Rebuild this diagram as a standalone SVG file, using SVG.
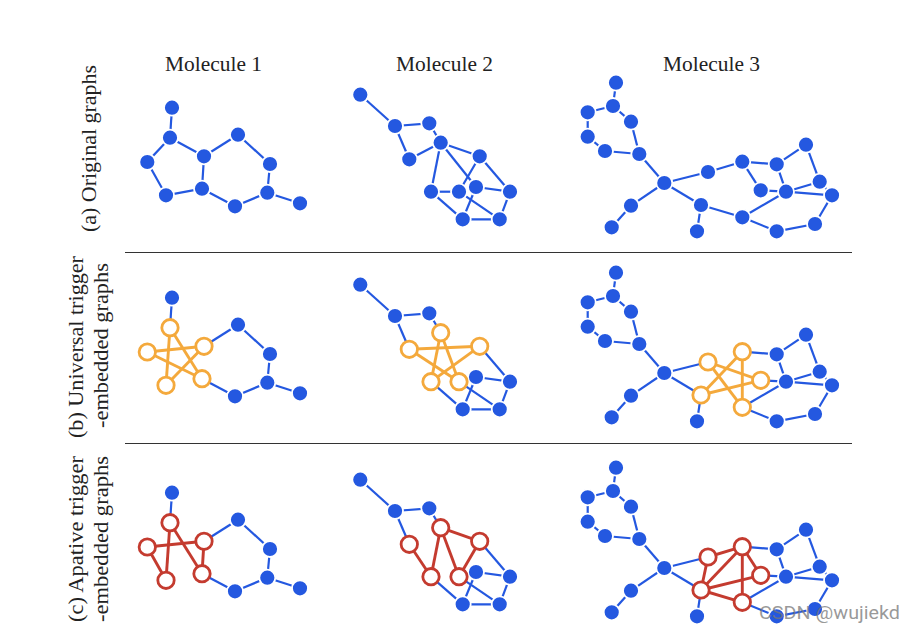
<svg xmlns="http://www.w3.org/2000/svg" width="914" height="634" viewBox="0 0 914 634">
<style>
text{font-family:"Liberation Serif","Times New Roman",serif;font-size:20.5px;fill:#222}
.wm{font-family:"Roboto","Liberation Sans",sans-serif;font-size:19px;fill:#777;fill-opacity:.75}
.rule{stroke:#333;stroke-width:1}
line{fill:none}
.e{stroke:#2458e0;stroke-width:2.2}
.o{stroke:#f4a93c;stroke-width:2.9}
.r{stroke:#c43b2f;stroke-width:2.9}
.n{fill:#2458e0;stroke:#fff;stroke-width:1.800}
.no{fill:#fff;stroke:#f4a93c;stroke-width:2.8}
.nr{fill:#fff;stroke:#c43b2f;stroke-width:2.8}
</style>
<rect width="914" height="634" fill="#fff"/>
<g id="titles">
<text x="165" y="71" textLength="97" lengthAdjust="spacingAndGlyphs">Molecule 1</text>
<text x="396" y="71" textLength="97" lengthAdjust="spacingAndGlyphs">Molecule 2</text>
<text x="663" y="71" textLength="97" lengthAdjust="spacingAndGlyphs">Molecule 3</text>
</g>
<g id="row-labels">
<text transform="translate(96,232) rotate(-90)" textLength="167" lengthAdjust="spacingAndGlyphs">(a) Original graphs</text>
<text transform="translate(83,438) rotate(-90)" textLength="182" lengthAdjust="spacingAndGlyphs">(b) Universal trigger</text>
<text transform="translate(108,428) rotate(-90)" textLength="165" lengthAdjust="spacingAndGlyphs">-embedded graphs</text>
<text transform="translate(83,622) rotate(-90)" textLength="166" lengthAdjust="spacingAndGlyphs">(c) Apative trigger</text>
<text transform="translate(108,622) rotate(-90)" textLength="166" lengthAdjust="spacingAndGlyphs">-embedded graphs</text>
</g>
<g id="rules">
<line class="rule" x1="125" y1="252.500" x2="852" y2="252.500"/>
<line class="rule" x1="125" y1="443.500" x2="852" y2="443.500"/>
</g>
<g id="connectors">
<g id="connectors-a">
<line class="e" x1="172" y1="107.700" x2="170" y2="137.700"/>
<line class="e" x1="170" y1="137.700" x2="147.300" y2="162"/>
<line class="e" x1="147.300" y1="162" x2="166" y2="195.300"/>
<line class="e" x1="166" y1="195.300" x2="202" y2="188.700"/>
<line class="e" x1="202" y1="188.700" x2="204" y2="156.300"/>
<line class="e" x1="204" y1="156.300" x2="170" y2="137.700"/>
<line class="e" x1="204" y1="156.300" x2="238" y2="134.700"/>
<line class="e" x1="238" y1="134.700" x2="270" y2="164"/>
<line class="e" x1="270" y1="164" x2="267.300" y2="192.700"/>
<line class="e" x1="267.300" y1="192.700" x2="235" y2="206.300"/>
<line class="e" x1="235" y1="206.300" x2="202" y2="188.700"/>
<line class="e" x1="267.300" y1="192.700" x2="300" y2="203.300"/>

<line class="e" x1="360.300" y1="94.700" x2="395" y2="126"/>
<line class="e" x1="395" y1="126" x2="429.300" y2="123.300"/>
<line class="e" x1="395" y1="126" x2="409.300" y2="159.300"/>
<line class="e" x1="429.300" y1="123.300" x2="440.700" y2="142.700"/>
<line class="e" x1="409.300" y1="159.300" x2="440.700" y2="142.700"/>
<line class="e" x1="440.700" y1="142.700" x2="479.700" y2="156.300"/>
<line class="e" x1="440.700" y1="142.700" x2="431" y2="191.700"/>
<line class="e" x1="440.700" y1="142.700" x2="476" y2="187"/>
<line class="e" x1="479.700" y1="156.300" x2="459" y2="191.700"/>
<line class="e" x1="479.700" y1="156.300" x2="510" y2="191.700"/>
<line class="e" x1="510" y1="191.700" x2="476" y2="187"/>
<line class="e" x1="510" y1="191.700" x2="499.700" y2="219.300"/>
<line class="e" x1="476" y1="187" x2="462.700" y2="219.300"/>
<line class="e" x1="459" y1="191.700" x2="431" y2="191.700"/>
<line class="e" x1="459" y1="191.700" x2="499.700" y2="219.300"/>
<line class="e" x1="431" y1="191.700" x2="462.700" y2="219.300"/>
<line class="e" x1="462.700" y1="219.300" x2="499.700" y2="219.300"/>

<line class="e" x1="616" y1="82.700" x2="613" y2="106"/>
<line class="e" x1="613" y1="106" x2="587.700" y2="112.300"/>
<line class="e" x1="613" y1="106" x2="631" y2="121.700"/>
<line class="e" x1="587.700" y1="112.300" x2="587.700" y2="136.700"/>
<line class="e" x1="587.700" y1="136.700" x2="605" y2="151"/>
<line class="e" x1="605" y1="151" x2="639.300" y2="154"/>
<line class="e" x1="631" y1="121.700" x2="639.300" y2="154"/>
<line class="e" x1="639.300" y1="154" x2="664.300" y2="183"/>
<line class="e" x1="664.300" y1="183" x2="631" y2="205.700"/>
<line class="e" x1="631" y1="205.700" x2="611.700" y2="227.300"/>
<line class="e" x1="664.300" y1="183" x2="701" y2="205"/>
<line class="e" x1="701" y1="205" x2="697" y2="231.300"/>
<line class="e" x1="664.300" y1="183" x2="708" y2="172"/>
<line class="e" x1="708" y1="172" x2="742.300" y2="161.700"/>
<line class="e" x1="742.300" y1="161.700" x2="776.700" y2="164.300"/>
<line class="e" x1="742.300" y1="161.700" x2="760.700" y2="190.300"/>
<line class="e" x1="776.700" y1="164.300" x2="786" y2="191.700"/>
<line class="e" x1="776.700" y1="164.300" x2="806" y2="144.700"/>
<line class="e" x1="760.700" y1="190.300" x2="786" y2="191.700"/>
<line class="e" x1="786" y1="191.700" x2="819.700" y2="181.700"/>
<line class="e" x1="786" y1="191.700" x2="832" y2="195.300"/>
<line class="e" x1="786" y1="191.700" x2="742.300" y2="217.300"/>
<line class="e" x1="701" y1="205" x2="742.300" y2="217.300"/>
<line class="e" x1="742.300" y1="217.300" x2="776.700" y2="231.300"/>
<line class="e" x1="776.700" y1="231.300" x2="815" y2="224"/>
<line class="e" x1="815" y1="224" x2="832" y2="195.300"/>
<line class="e" x1="832" y1="195.300" x2="819.700" y2="181.700"/>
<line class="e" x1="819.700" y1="181.700" x2="806" y2="144.700"/>
</g>
<g id="connectors-b" transform="translate(0,190)">
<line class="e" x1="172" y1="107.700" x2="170" y2="137.700"/>
<line class="e" x1="204" y1="156.300" x2="238" y2="134.700"/>
<line class="e" x1="238" y1="134.700" x2="270" y2="164"/>
<line class="e" x1="270" y1="164" x2="267.300" y2="192.700"/>
<line class="e" x1="267.300" y1="192.700" x2="235" y2="206.300"/>
<line class="e" x1="235" y1="206.300" x2="202" y2="188.700"/>
<line class="e" x1="267.300" y1="192.700" x2="300" y2="203.300"/>
<line class="o" x1="170" y1="137.700" x2="166" y2="195.300"/>
<line class="o" x1="170" y1="137.700" x2="202" y2="188.700"/>
<line class="o" x1="147.300" y1="162" x2="204" y2="156.300"/>
<line class="o" x1="147.300" y1="162" x2="202" y2="188.700"/>
<line class="o" x1="204" y1="156.300" x2="166" y2="195.300"/>

<line class="e" x1="360.300" y1="94.700" x2="395" y2="126"/>
<line class="e" x1="395" y1="126" x2="429.300" y2="123.300"/>
<line class="e" x1="395" y1="126" x2="409.300" y2="159.300"/>
<line class="e" x1="429.300" y1="123.300" x2="440.700" y2="142.700"/>
<line class="e" x1="479.700" y1="156.300" x2="510" y2="191.700"/>
<line class="e" x1="510" y1="191.700" x2="476" y2="187"/>
<line class="e" x1="510" y1="191.700" x2="499.700" y2="219.300"/>
<line class="e" x1="476" y1="187" x2="462.700" y2="219.300"/>
<line class="e" x1="459" y1="191.700" x2="499.700" y2="219.300"/>
<line class="e" x1="431" y1="191.700" x2="462.700" y2="219.300"/>
<line class="e" x1="462.700" y1="219.300" x2="499.700" y2="219.300"/>
<line class="o" x1="409.300" y1="159.300" x2="479.700" y2="156.300"/>
<line class="o" x1="409.300" y1="159.300" x2="459" y2="191.700"/>
<line class="o" x1="440.700" y1="142.700" x2="431" y2="191.700"/>
<line class="o" x1="440.700" y1="142.700" x2="459" y2="191.700"/>
<line class="o" x1="479.700" y1="156.300" x2="431" y2="191.700"/>

<line class="e" x1="616" y1="82.700" x2="613" y2="106"/>
<line class="e" x1="613" y1="106" x2="587.700" y2="112.300"/>
<line class="e" x1="613" y1="106" x2="631" y2="121.700"/>
<line class="e" x1="587.700" y1="112.300" x2="587.700" y2="136.700"/>
<line class="e" x1="587.700" y1="136.700" x2="605" y2="151"/>
<line class="e" x1="605" y1="151" x2="639.300" y2="154"/>
<line class="e" x1="631" y1="121.700" x2="639.300" y2="154"/>
<line class="e" x1="639.300" y1="154" x2="664.300" y2="183"/>
<line class="e" x1="664.300" y1="183" x2="631" y2="205.700"/>
<line class="e" x1="631" y1="205.700" x2="611.700" y2="227.300"/>
<line class="e" x1="664.300" y1="183" x2="701" y2="205"/>
<line class="e" x1="701" y1="205" x2="697" y2="231.300"/>
<line class="e" x1="664.300" y1="183" x2="708" y2="172"/>
<line class="e" x1="742.300" y1="161.700" x2="776.700" y2="164.300"/>
<line class="e" x1="776.700" y1="164.300" x2="786" y2="191.700"/>
<line class="e" x1="776.700" y1="164.300" x2="806" y2="144.700"/>
<line class="e" x1="760.700" y1="190.300" x2="786" y2="191.700"/>
<line class="e" x1="786" y1="191.700" x2="819.700" y2="181.700"/>
<line class="e" x1="786" y1="191.700" x2="832" y2="195.300"/>
<line class="e" x1="786" y1="191.700" x2="742.300" y2="217.300"/>
<line class="e" x1="742.300" y1="217.300" x2="776.700" y2="231.300"/>
<line class="e" x1="776.700" y1="231.300" x2="815" y2="224"/>
<line class="e" x1="815" y1="224" x2="832" y2="195.300"/>
<line class="e" x1="832" y1="195.300" x2="819.700" y2="181.700"/>
<line class="e" x1="819.700" y1="181.700" x2="806" y2="144.700"/>
<line class="o" x1="708" y1="172" x2="760.700" y2="190.300"/>
<line class="o" x1="708" y1="172" x2="742.300" y2="217.300"/>
<line class="o" x1="742.300" y1="161.700" x2="701" y2="205"/>
<line class="o" x1="742.300" y1="161.700" x2="742.300" y2="217.300"/>
<line class="o" x1="760.700" y1="190.300" x2="701" y2="205"/>
</g>
<g id="connectors-c" transform="translate(0,385)">
<line class="e" x1="172" y1="107.700" x2="170" y2="137.700"/>
<line class="e" x1="204" y1="156.300" x2="238" y2="134.700"/>
<line class="e" x1="238" y1="134.700" x2="270" y2="164"/>
<line class="e" x1="270" y1="164" x2="267.300" y2="192.700"/>
<line class="e" x1="267.300" y1="192.700" x2="235" y2="206.300"/>
<line class="e" x1="235" y1="206.300" x2="202" y2="188.700"/>
<line class="e" x1="267.300" y1="192.700" x2="300" y2="203.300"/>
<line class="r" x1="170" y1="137.700" x2="166" y2="195.300"/>
<line class="r" x1="170" y1="137.700" x2="202" y2="188.700"/>
<line class="r" x1="147.300" y1="162" x2="204" y2="156.300"/>
<line class="r" x1="147.300" y1="162" x2="166" y2="195.300"/>
<line class="r" x1="204" y1="156.300" x2="202" y2="188.700"/>

<line class="e" x1="360.300" y1="94.700" x2="395" y2="126"/>
<line class="e" x1="395" y1="126" x2="429.300" y2="123.300"/>
<line class="e" x1="395" y1="126" x2="409.300" y2="159.300"/>
<line class="e" x1="429.300" y1="123.300" x2="440.700" y2="142.700"/>
<line class="e" x1="479.700" y1="156.300" x2="510" y2="191.700"/>
<line class="e" x1="510" y1="191.700" x2="476" y2="187"/>
<line class="e" x1="510" y1="191.700" x2="499.700" y2="219.300"/>
<line class="e" x1="476" y1="187" x2="462.700" y2="219.300"/>
<line class="e" x1="459" y1="191.700" x2="499.700" y2="219.300"/>
<line class="e" x1="431" y1="191.700" x2="462.700" y2="219.300"/>
<line class="e" x1="462.700" y1="219.300" x2="499.700" y2="219.300"/>
<line class="r" x1="409.300" y1="159.300" x2="431" y2="191.700"/>
<line class="r" x1="440.700" y1="142.700" x2="431" y2="191.700"/>
<line class="r" x1="440.700" y1="142.700" x2="459" y2="191.700"/>
<line class="r" x1="440.700" y1="142.700" x2="479.700" y2="156.300"/>
<line class="r" x1="479.700" y1="156.300" x2="459" y2="191.700"/>

<line class="e" x1="616" y1="82.700" x2="613" y2="106"/>
<line class="e" x1="613" y1="106" x2="587.700" y2="112.300"/>
<line class="e" x1="613" y1="106" x2="631" y2="121.700"/>
<line class="e" x1="587.700" y1="112.300" x2="587.700" y2="136.700"/>
<line class="e" x1="587.700" y1="136.700" x2="605" y2="151"/>
<line class="e" x1="605" y1="151" x2="639.300" y2="154"/>
<line class="e" x1="631" y1="121.700" x2="639.300" y2="154"/>
<line class="e" x1="639.300" y1="154" x2="664.300" y2="183"/>
<line class="e" x1="664.300" y1="183" x2="631" y2="205.700"/>
<line class="e" x1="631" y1="205.700" x2="611.700" y2="227.300"/>
<line class="e" x1="664.300" y1="183" x2="701" y2="205"/>
<line class="e" x1="701" y1="205" x2="697" y2="231.300"/>
<line class="e" x1="664.300" y1="183" x2="708" y2="172"/>
<line class="e" x1="742.300" y1="161.700" x2="776.700" y2="164.300"/>
<line class="e" x1="776.700" y1="164.300" x2="786" y2="191.700"/>
<line class="e" x1="776.700" y1="164.300" x2="806" y2="144.700"/>
<line class="e" x1="760.700" y1="190.300" x2="786" y2="191.700"/>
<line class="e" x1="786" y1="191.700" x2="819.700" y2="181.700"/>
<line class="e" x1="786" y1="191.700" x2="832" y2="195.300"/>
<line class="e" x1="786" y1="191.700" x2="742.300" y2="217.300"/>
<line class="e" x1="742.300" y1="217.300" x2="776.700" y2="231.300"/>
<line class="e" x1="776.700" y1="231.300" x2="815" y2="224"/>
<line class="e" x1="815" y1="224" x2="832" y2="195.300"/>
<line class="e" x1="832" y1="195.300" x2="819.700" y2="181.700"/>
<line class="e" x1="819.700" y1="181.700" x2="806" y2="144.700"/>
<line class="r" x1="708" y1="172" x2="742.300" y2="161.700"/>
<line class="r" x1="708" y1="172" x2="701" y2="205"/>
<line class="r" x1="742.300" y1="161.700" x2="701" y2="205"/>
<line class="r" x1="742.300" y1="161.700" x2="760.700" y2="190.300"/>
<line class="r" x1="742.300" y1="161.700" x2="742.300" y2="217.300"/>
<line class="r" x1="760.700" y1="190.300" x2="701" y2="205"/>
<line class="r" x1="701" y1="205" x2="742.300" y2="217.300"/>
</g>
</g>
<g id="nodes-a">
<g id="a-m1-1"><circle class="n" cx="172" cy="107.700" r="8"/></g>
<g id="a-m1-2"><circle class="n" cx="170" cy="137.700" r="8"/></g>
<g id="a-m1-3"><circle class="n" cx="147.300" cy="162" r="8"/></g>
<g id="a-m1-4"><circle class="n" cx="166" cy="195.300" r="8"/></g>
<g id="a-m1-5"><circle class="n" cx="202" cy="188.700" r="8"/></g>
<g id="a-m1-6"><circle class="n" cx="204" cy="156.300" r="8"/></g>
<g id="a-m1-7"><circle class="n" cx="238" cy="134.700" r="8"/></g>
<g id="a-m1-8"><circle class="n" cx="270" cy="164" r="8"/></g>
<g id="a-m1-9"><circle class="n" cx="267.300" cy="192.700" r="8"/></g>
<g id="a-m1-10"><circle class="n" cx="235" cy="206.300" r="8"/></g>
<g id="a-m1-11"><circle class="n" cx="300" cy="203.300" r="8"/></g>
<g id="a-m2-1"><circle class="n" cx="360.300" cy="94.700" r="8"/></g>
<g id="a-m2-2"><circle class="n" cx="395" cy="126" r="8"/></g>
<g id="a-m2-3"><circle class="n" cx="429.300" cy="123.300" r="8"/></g>
<g id="a-m2-4"><circle class="n" cx="409.300" cy="159.300" r="8"/></g>
<g id="a-m2-5"><circle class="n" cx="440.700" cy="142.700" r="8"/></g>
<g id="a-m2-6"><circle class="n" cx="479.700" cy="156.300" r="8"/></g>
<g id="a-m2-7"><circle class="n" cx="510" cy="191.700" r="8"/></g>
<g id="a-m2-9"><circle class="n" cx="459" cy="191.700" r="8"/></g>
<g id="a-m2-8"><circle class="n" cx="476" cy="187" r="8"/></g>
<g id="a-m2-10"><circle class="n" cx="431" cy="191.700" r="8"/></g>
<g id="a-m2-11"><circle class="n" cx="462.700" cy="219.300" r="8"/></g>
<g id="a-m2-12"><circle class="n" cx="499.700" cy="219.300" r="8"/></g>
<g id="a-m3-1"><circle class="n" cx="616" cy="82.700" r="8"/></g>
<g id="a-m3-2"><circle class="n" cx="613" cy="106" r="8"/></g>
<g id="a-m3-3"><circle class="n" cx="587.700" cy="112.300" r="8"/></g>
<g id="a-m3-4"><circle class="n" cx="587.700" cy="136.700" r="8"/></g>
<g id="a-m3-5"><circle class="n" cx="605" cy="151" r="8"/></g>
<g id="a-m3-6"><circle class="n" cx="631" cy="121.700" r="8"/></g>
<g id="a-m3-7"><circle class="n" cx="639.300" cy="154" r="8"/></g>
<g id="a-m3-8"><circle class="n" cx="664.300" cy="183" r="8"/></g>
<g id="a-m3-9"><circle class="n" cx="631" cy="205.700" r="8"/></g>
<g id="a-m3-10"><circle class="n" cx="611.700" cy="227.300" r="8"/></g>
<g id="a-m3-11"><circle class="n" cx="701" cy="205" r="8"/></g>
<g id="a-m3-12"><circle class="n" cx="697" cy="231.300" r="8"/></g>
<g id="a-m3-13"><circle class="n" cx="708" cy="172" r="8"/></g>
<g id="a-m3-14"><circle class="n" cx="742.300" cy="161.700" r="8"/></g>
<g id="a-m3-15"><circle class="n" cx="776.700" cy="164.300" r="8"/></g>
<g id="a-m3-16"><circle class="n" cx="760.700" cy="190.300" r="8"/></g>
<g id="a-m3-17"><circle class="n" cx="786" cy="191.700" r="8"/></g>
<g id="a-m3-18"><circle class="n" cx="742.300" cy="217.300" r="8"/></g>
<g id="a-m3-19"><circle class="n" cx="776.700" cy="231.300" r="8"/></g>
<g id="a-m3-20"><circle class="n" cx="815" cy="224" r="8"/></g>
<g id="a-m3-21"><circle class="n" cx="832" cy="195.300" r="8"/></g>
<g id="a-m3-22"><circle class="n" cx="819.700" cy="181.700" r="8"/></g>
<g id="a-m3-23"><circle class="n" cx="806" cy="144.700" r="8"/></g>
</g>
<g id="nodes-b" transform="translate(0,190)">
<g id="b-m1-1"><circle class="n" cx="172" cy="107.700" r="8"/></g>
<g id="b-m1-2"><circle class="no" cx="170" cy="137.700" r="8.200"/></g>
<g id="b-m1-3"><circle class="no" cx="147.300" cy="162" r="8.200"/></g>
<g id="b-m1-4"><circle class="no" cx="166" cy="195.300" r="8.200"/></g>
<g id="b-m1-5"><circle class="no" cx="202" cy="188.700" r="8.200"/></g>
<g id="b-m1-6"><circle class="no" cx="204" cy="156.300" r="8.200"/></g>
<g id="b-m1-7"><circle class="n" cx="238" cy="134.700" r="8"/></g>
<g id="b-m1-8"><circle class="n" cx="270" cy="164" r="8"/></g>
<g id="b-m1-9"><circle class="n" cx="267.300" cy="192.700" r="8"/></g>
<g id="b-m1-10"><circle class="n" cx="235" cy="206.300" r="8"/></g>
<g id="b-m1-11"><circle class="n" cx="300" cy="203.300" r="8"/></g>
<g id="b-m2-1"><circle class="n" cx="360.300" cy="94.700" r="8"/></g>
<g id="b-m2-2"><circle class="n" cx="395" cy="126" r="8"/></g>
<g id="b-m2-3"><circle class="n" cx="429.300" cy="123.300" r="8"/></g>
<g id="b-m2-8"><circle class="n" cx="476" cy="187" r="8"/></g>
<g id="b-m2-4"><circle class="no" cx="409.300" cy="159.300" r="8.200"/></g>
<g id="b-m2-5"><circle class="no" cx="440.700" cy="142.700" r="8.200"/></g>
<g id="b-m2-6"><circle class="no" cx="479.700" cy="156.300" r="8.200"/></g>
<g id="b-m2-7"><circle class="n" cx="510" cy="191.700" r="8"/></g>
<g id="b-m2-9"><circle class="no" cx="459" cy="191.700" r="8.200"/></g>
<g id="b-m2-10"><circle class="no" cx="431" cy="191.700" r="8.200"/></g>
<g id="b-m2-11"><circle class="n" cx="462.700" cy="219.300" r="8"/></g>
<g id="b-m2-12"><circle class="n" cx="499.700" cy="219.300" r="8"/></g>
<g id="b-m3-1"><circle class="n" cx="616" cy="82.700" r="8"/></g>
<g id="b-m3-2"><circle class="n" cx="613" cy="106" r="8"/></g>
<g id="b-m3-3"><circle class="n" cx="587.700" cy="112.300" r="8"/></g>
<g id="b-m3-4"><circle class="n" cx="587.700" cy="136.700" r="8"/></g>
<g id="b-m3-5"><circle class="n" cx="605" cy="151" r="8"/></g>
<g id="b-m3-6"><circle class="n" cx="631" cy="121.700" r="8"/></g>
<g id="b-m3-7"><circle class="n" cx="639.300" cy="154" r="8"/></g>
<g id="b-m3-8"><circle class="n" cx="664.300" cy="183" r="8"/></g>
<g id="b-m3-9"><circle class="n" cx="631" cy="205.700" r="8"/></g>
<g id="b-m3-10"><circle class="n" cx="611.700" cy="227.300" r="8"/></g>
<g id="b-m3-12"><circle class="n" cx="697" cy="231.300" r="8"/></g>
<g id="b-m3-11"><circle class="no" cx="701" cy="205" r="8.200"/></g>
<g id="b-m3-13"><circle class="no" cx="708" cy="172" r="8.200"/></g>
<g id="b-m3-14"><circle class="no" cx="742.300" cy="161.700" r="8.200"/></g>
<g id="b-m3-15"><circle class="n" cx="776.700" cy="164.300" r="8"/></g>
<g id="b-m3-16"><circle class="no" cx="760.700" cy="190.300" r="8.200"/></g>
<g id="b-m3-17"><circle class="n" cx="786" cy="191.700" r="8"/></g>
<g id="b-m3-18"><circle class="no" cx="742.300" cy="217.300" r="8.200"/></g>
<g id="b-m3-19"><circle class="n" cx="776.700" cy="231.300" r="8"/></g>
<g id="b-m3-20"><circle class="n" cx="815" cy="224" r="8"/></g>
<g id="b-m3-21"><circle class="n" cx="832" cy="195.300" r="8"/></g>
<g id="b-m3-22"><circle class="n" cx="819.700" cy="181.700" r="8"/></g>
<g id="b-m3-23"><circle class="n" cx="806" cy="144.700" r="8"/></g>
</g>
<g id="nodes-c" transform="translate(0,385)">
<g id="c-m1-1"><circle class="n" cx="172" cy="107.700" r="8"/></g>
<g id="c-m1-2"><circle class="nr" cx="170" cy="137.700" r="8.200"/></g>
<g id="c-m1-3"><circle class="nr" cx="147.300" cy="162" r="8.200"/></g>
<g id="c-m1-4"><circle class="nr" cx="166" cy="195.300" r="8.200"/></g>
<g id="c-m1-5"><circle class="nr" cx="202" cy="188.700" r="8.200"/></g>
<g id="c-m1-6"><circle class="nr" cx="204" cy="156.300" r="8.200"/></g>
<g id="c-m1-7"><circle class="n" cx="238" cy="134.700" r="8"/></g>
<g id="c-m1-8"><circle class="n" cx="270" cy="164" r="8"/></g>
<g id="c-m1-9"><circle class="n" cx="267.300" cy="192.700" r="8"/></g>
<g id="c-m1-10"><circle class="n" cx="235" cy="206.300" r="8"/></g>
<g id="c-m1-11"><circle class="n" cx="300" cy="203.300" r="8"/></g>
<g id="c-m2-1"><circle class="n" cx="360.300" cy="94.700" r="8"/></g>
<g id="c-m2-2"><circle class="n" cx="395" cy="126" r="8"/></g>
<g id="c-m2-3"><circle class="n" cx="429.300" cy="123.300" r="8"/></g>
<g id="c-m2-8"><circle class="n" cx="476" cy="187" r="8"/></g>
<g id="c-m2-4"><circle class="nr" cx="409.300" cy="159.300" r="8.200"/></g>
<g id="c-m2-5"><circle class="nr" cx="440.700" cy="142.700" r="8.200"/></g>
<g id="c-m2-6"><circle class="nr" cx="479.700" cy="156.300" r="8.200"/></g>
<g id="c-m2-7"><circle class="n" cx="510" cy="191.700" r="8"/></g>
<g id="c-m2-9"><circle class="nr" cx="459" cy="191.700" r="8.200"/></g>
<g id="c-m2-10"><circle class="nr" cx="431" cy="191.700" r="8.200"/></g>
<g id="c-m2-11"><circle class="n" cx="462.700" cy="219.300" r="8"/></g>
<g id="c-m2-12"><circle class="n" cx="499.700" cy="219.300" r="8"/></g>
<g id="c-m3-1"><circle class="n" cx="616" cy="82.700" r="8"/></g>
<g id="c-m3-2"><circle class="n" cx="613" cy="106" r="8"/></g>
<g id="c-m3-3"><circle class="n" cx="587.700" cy="112.300" r="8"/></g>
<g id="c-m3-4"><circle class="n" cx="587.700" cy="136.700" r="8"/></g>
<g id="c-m3-5"><circle class="n" cx="605" cy="151" r="8"/></g>
<g id="c-m3-6"><circle class="n" cx="631" cy="121.700" r="8"/></g>
<g id="c-m3-7"><circle class="n" cx="639.300" cy="154" r="8"/></g>
<g id="c-m3-8"><circle class="n" cx="664.300" cy="183" r="8"/></g>
<g id="c-m3-9"><circle class="n" cx="631" cy="205.700" r="8"/></g>
<g id="c-m3-10"><circle class="n" cx="611.700" cy="227.300" r="8"/></g>
<g id="c-m3-12"><circle class="n" cx="697" cy="231.300" r="8"/></g>
<g id="c-m3-11"><circle class="nr" cx="701" cy="205" r="8.200"/></g>
<g id="c-m3-13"><circle class="nr" cx="708" cy="172" r="8.200"/></g>
<g id="c-m3-14"><circle class="nr" cx="742.300" cy="161.700" r="8.200"/></g>
<g id="c-m3-15"><circle class="n" cx="776.700" cy="164.300" r="8"/></g>
<g id="c-m3-16"><circle class="nr" cx="760.700" cy="190.300" r="8.200"/></g>
<g id="c-m3-17"><circle class="n" cx="786" cy="191.700" r="8"/></g>
<g id="c-m3-18"><circle class="nr" cx="742.300" cy="217.300" r="8.200"/></g>
<g id="c-m3-19"><circle class="n" cx="776.700" cy="231.300" r="8"/></g>
<g id="c-m3-20"><circle class="n" cx="815" cy="224" r="8"/></g>
<g id="c-m3-21"><circle class="n" cx="832" cy="195.300" r="8"/></g>
<g id="c-m3-22"><circle class="n" cx="819.700" cy="181.700" r="8"/></g>
<g id="c-m3-23"><circle class="n" cx="806" cy="144.700" r="8"/></g>
</g>
<text class="wm" x="759" y="619" textLength="141" lengthAdjust="spacingAndGlyphs">CSDN @wujiekd</text>
</svg>
